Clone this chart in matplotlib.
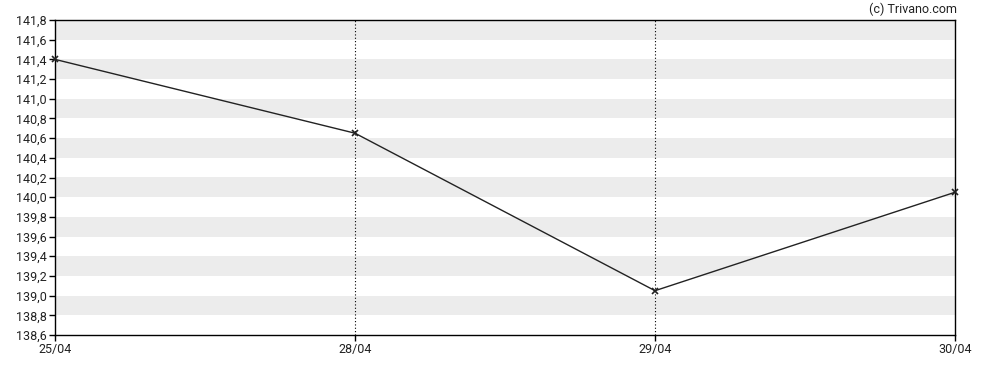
import numpy as np
import matplotlib.pyplot as plt

plt.rcParams['font.family'] = ['Roboto', 'DejaVu Sans']

dates = ['25/04', '28/04', '29/04', '30/04']
prices = [141.4, 140.65, 139.05, 140.05]
yticks = [138.6, 138.8, 139.0, 139.2, 139.4, 139.6, 139.8, 140.0, 140.2,
          140.4, 140.6, 140.8, 141.0, 141.2, 141.4, 141.6, 141.8]

W, H = 988, 370
fig = plt.figure(figsize=(W / 100, H / 100), dpi=100)
ax = fig.add_axes([55 / W, (H - 335) / H, 900 / W, 315 / H])

x = np.arange(len(dates))

# alternating grey bands
for lo in np.arange(138.8, 141.8, 0.4):
    ax.axhspan(lo, lo + 0.2, color='#ececec', lw=0, zorder=0)

# dotted vertical grid at the inner dates
for xi in x[1:-1]:
    ax.axvline(xi, color='black', ls=(0, (1, 2)), lw=0.8, zorder=1)

ax.plot(x, prices, color='#222222', lw=1, marker='x', ms=4, mew=1.2, zorder=3,
        clip_on=False)

ax.set_xlim(0, 3)
ax.set_ylim(138.6, 141.8)
ax.set_xticks(x)
ax.set_xticklabels(dates)
ax.set_yticks(yticks)
ax.set_yticklabels([('%.1f' % v).replace('.', ',') for v in yticks])
ax.tick_params(axis='both', labelsize=9, length=4, width=1, colors='black',
               labelcolor='#222222', pad=2)
for s in ax.spines.values():
    s.set_linewidth(1)
    s.set_color('black')

fig.text(957 / W, 1 - 9 / H, '(c) Trivano.com', ha='right', va='center',
         fontsize=9, color='#222222')

fig.savefig('out.png', dpi=100)
